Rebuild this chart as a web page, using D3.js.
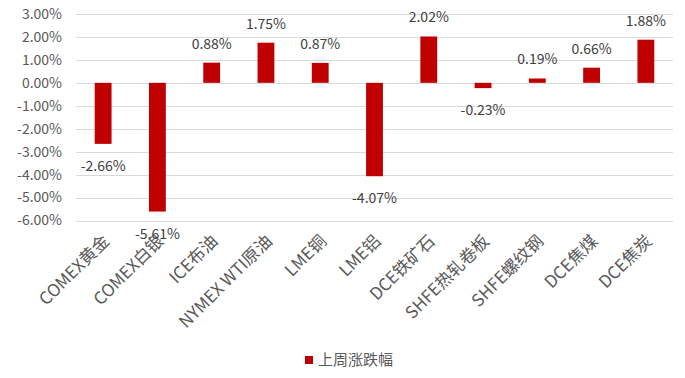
<!DOCTYPE html>
<html>
<head>
<meta charset="utf-8">
<script src="https://cdn.jsdelivr.net/npm/d3@7"></script>
<style>
  body { margin: 0; background: #fff; }
  text { font-family: "Microsoft YaHei", "Noto Sans CJK SC", sans-serif; fill: #595959; }
</style>
</head>
<body>
<div id="chart"></div>
<script>
const categories = ['COMEX黄金', 'COMEX白银', 'ICE布油', 'NYMEX WTI原油', 'LME铜', 'LME铝',
  'DCE铁矿石', 'SHFE热轧卷板', 'SHFE螺纹钢', 'DCE焦煤', 'DCE焦炭']
const values = [-2.66, -5.61, 0.88, 1.75, 0.87, -4.07, 2.02, -0.23, 0.19, 0.66, 1.88]
const yTicks = [3, 2, 1, 0, -1, -2, -3, -4, -5, -6]
const seriesName = '上周涨跌幅'

const width = 685, height = 378
const margin = { top: 14, right: 12, bottom: 158, left: 76 }

const svg = d3.select('#chart')
  .append('svg')
  .attr('width', width)
  .attr('height', height)

const x = d3.scaleBand()
  .domain(categories)
  .range([margin.left, width - margin.right])
  .paddingInner(0.69)
  .paddingOuter(0.345)

const y = d3.scaleLinear()
  .domain([-6, 3])
  .range([220.5, margin.top])

// grid
svg.append('g')
  .selectAll('line')
  .data(yTicks)
  .enter()
  .append('line')
  .attr('x1', margin.left)
  .attr('x2', width - margin.right)
  .attr('y1', d => Math.round(y(d)) + 0.5)
  .attr('y2', d => Math.round(y(d)) + 0.5)
  .attr('stroke', '#d9d9d9')
  .attr('stroke-width', 1)

// y labels
svg.append('g')
  .selectAll('text')
  .data(yTicks)
  .enter()
  .append('text')
  .attr('x', 62)
  .attr('y', d => y(d))
  .attr('dy', '0.35em')
  .attr('text-anchor', 'end')
  .style('font-size', '14px')
  .text(d => d.toFixed(2) + '%')

// bars
svg.append('g')
  .selectAll('rect')
  .data(values)
  .enter()
  .append('rect')
  .attr('x', (d, i) => x(categories[i]))
  .attr('width', x.bandwidth())
  .attr('y', d => y(Math.max(d, 0)))
  .attr('height', d => Math.abs(y(d) - y(0)))
  .attr('fill', '#c00000')

// value labels
svg.append('g')
  .selectAll('text')
  .data(values)
  .enter()
  .append('text')
  .attr('x', (d, i) => x(categories[i]) + x.bandwidth() / 2)
  .attr('y', d => d >= 0 ? y(d) - 14 : y(d) + 27)
  .attr('text-anchor', 'middle')
  .style('font-size', '14px')
  .style('fill', '#404040')
  .text(d => d.toFixed(2) + '%')

// category labels
svg.append('g')
  .selectAll('text')
  .data(categories)
  .enter()
  .append('text')
  .attr('transform', d => 'translate(' + (x(d) + x.bandwidth() / 2 + 3) + ',' + 238 + ') rotate(-45)')
  .attr('text-anchor', 'end')
  .attr('dy', '0.35em')
  .style('font-size', '17px')
  .text(d => d)

// legend
const legend = svg.append('g')
  .attr('transform', 'translate(305,360)')
legend.append('rect')
  .attr('x', 0)
  .attr('y', -4)
  .attr('width', 8)
  .attr('height', 8)
  .attr('fill', '#c00000')
legend.append('text')
  .attr('x', 13)
  .attr('y', 0)
  .attr('dy', '0.35em')
  .style('font-size', '15px')
  .text(seriesName)
</script>
</body>
</html>
